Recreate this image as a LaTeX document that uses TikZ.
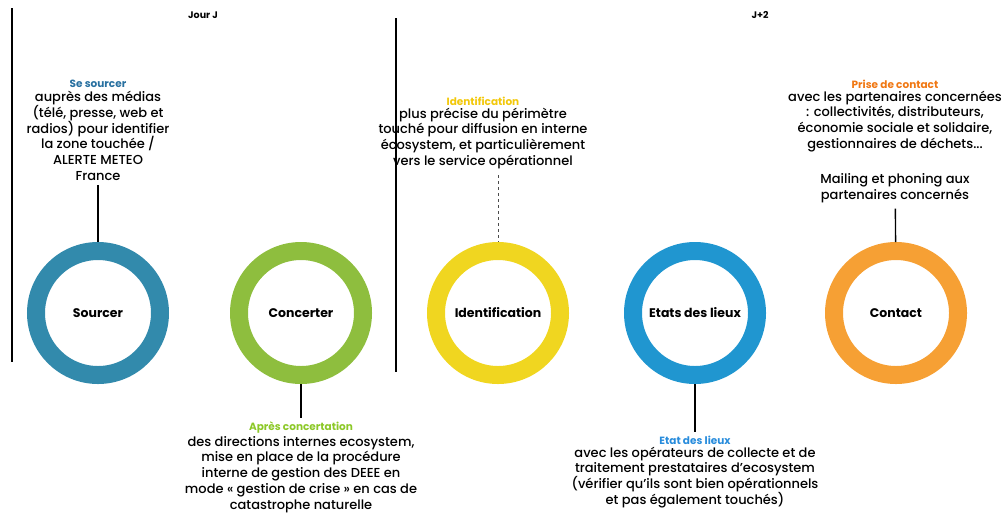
\documentclass[tikz,border=0pt]{standalone}
\usepackage{fontspec}
\setmainfont{Poppins Medium}[BoldFont=Poppins Bold]
\usetikzlibrary{positioning}
\definecolor{sourcerblue}{RGB}{50,138,172}
\definecolor{concertgreen}{RGB}{142,190,62}
\definecolor{identyellow}{RGB}{240,214,32}
\definecolor{etatblue}{RGB}{32,150,208}
\definecolor{contactorange}{RGB}{246,160,52}
\definecolor{titreblue}{RGB}{40,112,160}
\definecolor{titregreen}{RGB}{140,200,40}
\definecolor{titreyellow}{RGB}{242,200,10}
\definecolor{titreorange}{RGB}{240,120,20}
\definecolor{titreetat}{RGB}{40,140,220}
\tikzset{
  ring/.style={circle, draw=#1, line width=18pt, minimum size=124pt, inner sep=0pt,
    font=\fontsize{12.5}{14}\selectfont\bfseries},
  bloc/.style={align=center, inner sep=0pt, font=\fontsize{13}{15.8}\selectfont},
  titre/.style={inner sep=0pt, text=#1, font=\fontsize{10.5}{12}\selectfont\bfseries},
  jour/.style={inner sep=0pt, font=\fontsize{9.5}{11}\selectfont\bfseries},
  lien/.style={-, line width=1.4pt},
}
\begin{document}
\begin{tikzpicture}[x=1pt, y=-1pt]
\useasboundingbox (0,0) rectangle (1008,515);

\coordinate (sep1a) at (12,8);
\coordinate (sep1b) at (12,362);
\coordinate (sep2a) at (396,18);
\coordinate (sep2b) at (396,372);
\draw[line width=1.8pt] (sep1a) -- (sep1b);
\draw[line width=1.8pt] (sep2a) -- (sep2b);
\node[jour] (jourj) at (203,15) {Jour J};
\node[jour] (jdeux) at (760,15) {J+2};

\node[ring=sourcerblue] (sourcer) at (98,313) {Sourcer};
\node[ring=concertgreen] (concerter) at (301,313) {Concerter};
\node[ring=identyellow] (identif) at (498,313) {Identification};
\node[ring=etatblue] (etats) at (695,313) {Etats des lieux};
\node[ring=contactorange] (contact) at (896,313) {Contact};

\node[titre=titreblue] (t-sourcer) at (98,84) {Se sourcer};
\node[bloc, below=3pt of t-sourcer] (b-sourcer) {auprès des médias\\(télé, presse, web et\\radios) pour identifier\\la zone touchée /\\ALERTE METEO\\France};
\draw[lien, shorten <=4pt] (b-sourcer) -- (sourcer);

\node[titre=titregreen] (t-concerter) at (301,428) {Après concertation};
\node[bloc, below=2pt of t-concerter] (b-concerter) {des directions internes ecosystem,\\mise en place de la procédure\\interne de gestion des DEEE en\\mode « gestion de crise » en cas de\\catastrophe naturelle};
\draw[lien, shorten >=4pt] (concerter) -- (t-concerter);

\node[titre=titreyellow] (t-identif) at (483,101) {Identification};
\node[bloc, below=2pt of t-identif] (b-identif) {plus précise du périmètre\\touché pour diffusion en interne\\écosystem, et particulièrement\\vers le service opérationnel};
\draw[lien, line width=0.9pt, dashed, black!70, shorten <=6pt] (identif.north |- b-identif.south) -- (identif.north);

\node[titre=titreetat] (t-etats) at (695,440) {Etat des lieux};
\node[bloc, below=2pt of t-etats] (b-etats) {avec les opérateurs de collecte et de\\traitement prestataires d'ecosystem\\(vérifier qu'ils sont bien opérationnels\\et pas également touchés)};
\draw[lien, shorten >=4pt] (etats) -- (t-etats);

\node[titre=titreorange] (t-contact) at (895,84) {Prise de contact};
\node[bloc, below=2pt of t-contact] (b-contact) {avec les partenaires concernées\\: collectivités, distributeurs,\\économie sociale et solidaire,\\gestionnaires de déchets...\\[19pt]Mailing et phoning aux\\partenaires concernés};
\draw[lien, shorten <=6pt] (b-contact) -- (contact);
\end{tikzpicture}
\end{document}
